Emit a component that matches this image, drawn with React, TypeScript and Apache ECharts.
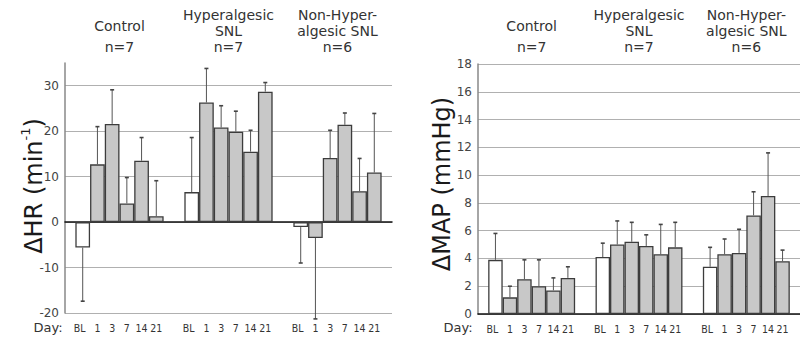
import React, { useEffect, useRef } from "react";
import * as echarts from "echarts";

// ---------- data ----------
const groups = ["Control", "Hyperalgesic SNL", "Non-Hyperalgesic SNL"];
const groupTitleLines = [["Control"], ["Hyperalgesic", "SNL"], ["Non-Hyper-", "algesic SNL"]];
const groupN = [7, 7, 6];
const days = ["BL", "1", "3", "7", "14", "21"];

// ΔHR (min-1): mean per group (rows) and day (columns), one-sided SEM
const hrMean = [
  [-5.6, 12.7, 21.6, 4.1, 13.5, 1.3],
  [6.6, 26.3, 20.8, 19.9, 15.5, 28.7],
  [-1.1, -3.5, 14.1, 21.4, 6.8, 10.9],
];
const hrSem = [
  [11.8, 8.3, 7.5, 5.7, 5.1, 7.8],
  [12.0, 7.5, 4.8, 4.5, 4.7, 2.0],
  [7.9, 17.8, 6.1, 2.6, 7.2, 13.0],
];

// ΔMAP (mmHg)
const mapMean = [
  [3.9, 1.2, 2.5, 2.0, 1.7, 2.6],
  [4.1, 5.0, 5.2, 4.9, 4.3, 4.8],
  [3.4, 4.3, 4.4, 7.1, 8.5, 3.8],
];
const mapSem = [
  [1.9, 0.8, 1.4, 1.9, 0.9, 0.8],
  [1.0, 1.7, 1.4, 0.8, 2.15, 1.8],
  [1.4, 1.1, 1.7, 1.7, 3.1, 0.8],
];

const hrTicks = { min: -20, max: 35, interval: 10 };
const mapTicks = { min: 0, max: 18, interval: 2 };

// ---------- styling ----------
const FONT = "'DejaVu Sans', Verdana, sans-serif";
const DAY_FONT = "10.5px 'DejaVu Sans Condensed', 'DejaVu Sans', sans-serif";
const CAT_GAP = 0.19;
const NBARS = days.length;

function barSeries(xi: number, yi: number, mean: number[][]) {
  return days.map((day, d) => ({
    type: "bar",
    name: day,
    xAxisIndex: xi,
    yAxisIndex: yi,
    barGap: "0%",
    barCategoryGap: CAT_GAP * 100 + "%",
    silent: true,
    itemStyle: {
      color: d === 0 ? "#ffffff" : "#c8c8c8",
      borderColor: "#3c3c3c",
      borderWidth: 1.3,
    },
    data: mean.map((row) => row[d]),
  }));
}

function errorSeries(xi: number, yi: number, mean: number[][], sem: number[][], yMin: number) {
  const data: number[][] = [];
  mean.forEach((row, g) => row.forEach((m, d) => data.push([g, d, m, sem[g][d]])));
  return {
    type: "custom",
    xAxisIndex: xi,
    yAxisIndex: yi,
    data,
    encode: { x: 0, y: 2 },
    clip: false,
    silent: true,
    z: 5,
    renderItem: (params: any, api: any) => {
      const g = api.value(0);
      const d = api.value(1);
      const m = api.value(2);
      const s = api.value(3);
      const band = api.size([1, 0])[0];
      const bw = (band * (1 - CAT_GAP)) / NBARS;
      const gx = api.coord([g, 0])[0];
      const cx = gx - (NBARS / 2) * bw + bw * (d + 0.5);
      const end = m >= 0 ? m + s : m - s;
      const y0 = api.coord([g, m])[1];
      const y1 = api.coord([g, end])[1];
      const yb = api.coord([g, yMin])[1];
      return {
        type: "group",
        children: [
          {
            type: "line",
            shape: { x1: cx, y1: y0, x2: cx, y2: y1 },
            style: { stroke: "#555", lineWidth: 1 },
          },
          {
            type: "line",
            shape: { x1: cx - 2, y1: y1, x2: cx + 2, y2: y1 },
            style: { stroke: "#444", lineWidth: 1.6 },
          },
          {
            type: "text",
            x: cx + (d === 0 ? -3 : 0),
            y: yb + 14.5,
            style: {
              text: days[d],
              fill: "#333",
              font: DAY_FONT,
              align: "center",
              verticalAlign: "middle",
            },
          },
        ],
      };
    },
  };
}

function titleFormatter(_v: string, i: number) {
  const lines = groupTitleLines[i];
  const style = lines.length === 1 ? "c" : "t";
  return lines.map((l) => `{${style}|${l}}`).join("\n") + `\n{t|n=${groupN[i]}}`;
}

const titleRich = {
  t: { fontSize: 14, lineHeight: 16, color: "#333", fontFamily: FONT },
  c: { fontSize: 14, lineHeight: 26, color: "#333", fontFamily: FONT },
};

function yAxis(grid: number, t: { min: number; max: number; interval: number }) {
  return {
    type: "value",
    gridIndex: grid,
    min: t.min,
    max: t.max,
    interval: t.interval,
    axisLine: { show: true, lineStyle: { color: "#888", width: 1.5 } },
    axisTick: { show: false },
    axisLabel: { color: "#444", fontSize: 12, fontFamily: FONT, margin: 6, showMaxLabel: t.max % t.interval === 0 },
    splitLine: {
      show: true,
      showMaxLine: t.max % t.interval === 0,
      lineStyle: { color: "#b0b0b0", width: 1 },
    },
  };
}

function xAxes(grid: number, margin: number) {
  return [
    {
      type: "category",
      gridIndex: grid,
      data: groups,
      axisLine: { show: true, onZero: true, lineStyle: { color: "#111", width: 1.5 } },
      axisTick: { show: false },
      axisLabel: { show: false },
      splitLine: { show: false },
    },
    {
      type: "category",
      gridIndex: grid,
      position: "top",
      data: groups,
      axisLine: { show: false },
      axisTick: { show: false },
      axisLabel: { show: true, interval: 0, hideOverlap: false, margin, formatter: titleFormatter, rich: titleRich },
      splitLine: { show: false },
    },
  ];
}

function axisTitle(x: number, y: number, main: string, sup: string, tail: string) {
  return {
    type: "text",
    x,
    y,
    rotation: Math.PI / 2,
    silent: true,
    style: {
      text: sup ? `{m|${main}}{s|${sup}}{m|${tail}}` : `{m|${main}${tail}}`,
      align: "center",
      verticalAlign: "middle",
      rich: {
        m: { fontSize: 24, fontFamily: FONT, fill: "#1a1a1a", color: "#1a1a1a", lineHeight: 30 },
        s: { fontSize: 13, fontFamily: FONT, fill: "#1a1a1a", color: "#1a1a1a", lineHeight: 30, verticalAlign: "top" },
      },
    },
  };
}

function dayLabel(x: number, y: number) {
  return {
    type: "text",
    x,
    y,
    silent: true,
    style: { text: "Day:", font: "13px " + FONT, fill: "#333", align: "center", verticalAlign: "middle" },
  };
}

export default function App() {
  const ref = useRef<HTMLDivElement>(null);
  useEffect(() => {
    if (!ref.current) return;
    const chart = echarts.init(ref.current, undefined, { renderer: "svg" });
    chart.setOption({
      animation: false,
      textStyle: { fontFamily: FONT },
      grid: [
        { left: 65, top: 63, width: 327, height: 250 },
        { left: 478, top: 64, width: 330, height: 250 },
      ],
      xAxis: [...xAxes(0, 8), ...xAxes(1, 9)],
      yAxis: [yAxis(0, hrTicks), yAxis(1, mapTicks)],
      series: [
        ...barSeries(0, 0, hrMean),
        ...barSeries(2, 1, mapMean),
        errorSeries(0, 0, hrMean, hrSem, hrTicks.min),
        errorSeries(2, 1, mapMean, mapSem, mapTicks.min),
      ],
      graphic: [
        axisTitle(34, 186, "ΔHR (min", "-1", ")"),
        axisTitle(442, 184, "ΔMAP (mmHg)", "", ""),
        dayLabel(48, 327),
        dayLabel(458, 327),
      ],
    });
    return () => chart.dispose();
  }, []);
  return (
    <div
      ref={ref}
      style={{ position: "absolute", left: 0, top: 0, width: 800, height: 342 }}
    />
  );
}
